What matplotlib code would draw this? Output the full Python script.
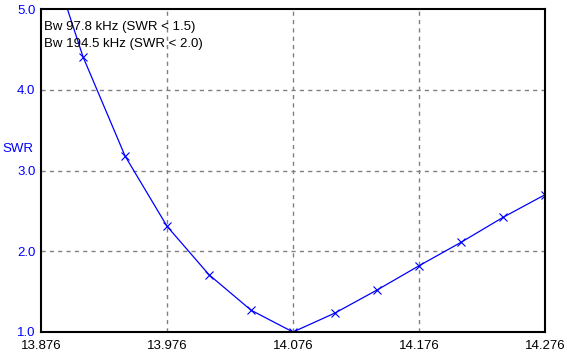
import matplotlib.pyplot as plt
import numpy as np

plt.rcParams['font.family'] = ['Liberation Sans', 'DejaVu Sans']

# Frequency (MHz) and SWR readings
freqs = [13.876, 13.9093, 13.9427, 13.976, 14.0093, 14.0427, 14.076,
         14.1093, 14.1427, 14.176, 14.2093, 14.2427, 14.276]
swr = [6.0, 4.41, 3.18, 2.31, 1.71, 1.27, 1.0,
       1.235, 1.52, 1.82, 2.11, 2.42, 2.70]
xticks = [13.876, 13.976, 14.076, 14.176, 14.276]
yticks = [1.0, 2.0, 3.0, 4.0, 5.0]
notes = ['Bw 97.8 kHz (SWR < 1.5)', 'Bw 194.5 kHz (SWR < 2.0)']

BLUE = '#0000FF'

fig = plt.figure(figsize=(5.67, 3.57), dpi=100)
ax = fig.add_axes([41/567, 25/357, 504/567, 323/357])

# the first point sits above the plot, only the line into it is shown
ax.plot(freqs, swr, color=BLUE, lw=0.9)
ax.plot(freqs[1:], swr[1:], ls='none', marker='x', ms=5.5, mew=0.8, color=BLUE)

ax.set_xlim(xticks[0], xticks[-1])
ax.set_ylim(yticks[0], yticks[-1])
ax.set_xticks(xticks)
ax.set_xticklabels([f'{v:.3f}' for v in xticks])
ax.set_yticks(yticks)
ax.set_yticklabels([f'{v:.1f}' for v in yticks], color=BLUE)
ax.tick_params(length=0, labelsize=9.5, pad=4)
ax.tick_params(axis='x', pad=6)

# dashed grid on the inner ticks only
for v in xticks[1:-1]:
    ax.axvline(v, color='#808080', ls=(0, (3, 3)), lw=1, zorder=0)
for v in yticks[1:-1]:
    ax.axhline(v, color='#808080', ls=(0, (3, 3)), lw=1, zorder=0)

for s in ax.spines.values():
    s.set_linewidth(1.5)
    s.set_color('black')

fig.text(2/567, 1 - 155/357, 'SWR', color=BLUE, fontsize=9.5, va='bottom')

for i, t in enumerate(notes):
    ax.text(0.006, 0.945 - i * 0.053, t, transform=ax.transAxes, fontsize=9.5,
            va='center', ha='left')

plt.savefig('out.png', dpi=100)
plt.close()
